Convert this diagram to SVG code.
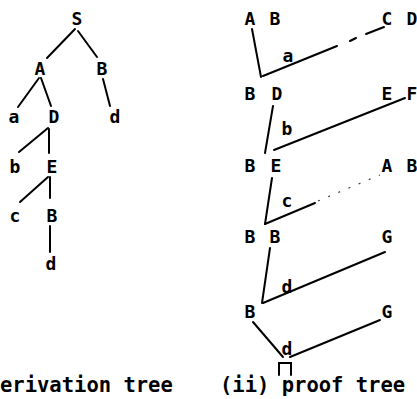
<svg xmlns="http://www.w3.org/2000/svg" width="417" height="399" viewBox="0 0 417 399">
<style>
.lbl{font-family:"DejaVu Sans Mono","Liberation Mono",monospace;font-size:18px;font-weight:bold;fill:#000;text-anchor:middle}
.cap{font-family:"DejaVu Sans Mono","Liberation Mono",monospace;font-size:20.5px;font-weight:600;fill:#000}
.ln{stroke:#000;stroke-width:2;fill:none;stroke-linecap:round}
.fd{stroke:#444;stroke-width:1.3;fill:none;stroke-dasharray:2 9}
</style>
<rect width="417" height="399" fill="#fff"/>
<g id="connectors">
  <line class="ln" x1="75" y1="29" x2="47" y2="58"/>
  <line class="ln" x1="78" y1="31" x2="97" y2="57"/>
  <line class="ln" x1="103" y1="79" x2="110" y2="106"/>
  <line class="ln" x1="39" y1="78" x2="18" y2="107"/>
  <line class="ln" x1="41" y1="78" x2="51" y2="106"/>
  <line class="ln" x1="48" y1="128" x2="19" y2="152"/>
  <line class="ln" x1="49" y1="129" x2="49" y2="153"/>
  <line class="ln" x1="48" y1="177" x2="20" y2="202"/>
  <line class="ln" x1="50" y1="177" x2="50" y2="198"/>
  <line class="ln" x1="50" y1="226" x2="50" y2="252"/>
  <line class="ln" x1="252" y1="29" x2="261" y2="77"/>
  <line class="ln" x1="263" y1="76" x2="337" y2="46"/>
  <line class="ln" x1="350" y1="41" x2="356" y2="38" stroke-width="1.5"/>
  <line class="ln" x1="366" y1="34" x2="384" y2="27" stroke-width="1.5"/>
  <line class="ln" x1="273" y1="106" x2="265" y2="153"/>
  <line class="ln" x1="274" y1="150" x2="405" y2="98"/>
  <line class="ln" x1="272" y1="178" x2="265" y2="224"/>
  <line class="ln" x1="265" y1="224" x2="315" y2="203"/>
  <line class="fd" x1="318" y1="201" x2="380" y2="175"/>
  <line class="ln" x1="270" y1="248" x2="262" y2="303"/>
  <line class="ln" x1="263" y1="303" x2="385" y2="252"/>
  <line class="ln" x1="253" y1="322" x2="283" y2="357"/>
  <line class="ln" x1="290" y1="357" x2="380" y2="320"/>
  <path class="ln" d="M279,375 V363 H291 V375" stroke-width="1.5"/>
</g>
<g id="derivation-tree">
  <g id="dS"><text class="lbl" x="77" y="25">S</text></g>
  <g id="dA"><text class="lbl" x="40" y="75">A</text></g>
  <g id="dB"><text class="lbl" x="102" y="75">B</text></g>
  <g id="da"><text class="lbl" x="14" y="123">a</text></g>
  <g id="dD"><text class="lbl" x="54" y="123">D</text></g>
  <g id="dd1"><text class="lbl" x="115" y="123">d</text></g>
  <g id="db"><text class="lbl" x="15" y="173">b</text></g>
  <g id="dE"><text class="lbl" x="52" y="173">E</text></g>
  <g id="dc"><text class="lbl" x="15" y="222">c</text></g>
  <g id="dB2"><text class="lbl" x="52" y="222">B</text></g>
  <g id="dd2"><text class="lbl" x="51" y="270">d</text></g>
</g>
<g id="proof-tree">
  <g id="pAB"><text class="lbl" x="250" y="25">A</text><text class="lbl" x="275" y="25">B</text></g>
  <g id="pCD"><text class="lbl" x="387" y="25">C</text><text class="lbl" x="412" y="25">D</text></g>
  <g id="pa"><text class="lbl" x="288" y="62">a</text></g>
  <g id="pBD"><text class="lbl" x="250" y="100">B</text><text class="lbl" x="277" y="100">D</text></g>
  <g id="pEF"><text class="lbl" x="387" y="100">E</text><text class="lbl" x="412" y="100">F</text></g>
  <g id="pb"><text class="lbl" x="287" y="135">b</text></g>
  <g id="pBE"><text class="lbl" x="250" y="172">B</text><text class="lbl" x="276" y="172">E</text></g>
  <g id="pAB2"><text class="lbl" x="387" y="172">A</text><text class="lbl" x="412" y="172">B</text></g>
  <g id="pc"><text class="lbl" x="287" y="207">c</text></g>
  <g id="pBB"><text class="lbl" x="250" y="243">B</text><text class="lbl" x="275" y="243">B</text></g>
  <g id="pG1"><text class="lbl" x="387" y="243">G</text></g>
  <g id="pd1"><text class="lbl" x="287" y="293">d</text></g>
  <g id="pB"><text class="lbl" x="250" y="318">B</text></g>
  <g id="pG2"><text class="lbl" x="387" y="318">G</text></g>
  <g id="pd2"><text class="lbl" x="287" y="355">d</text></g>
</g>
<g id="captions">
  <text class="cap" x="0" y="392">erivation tree</text>
  <text class="cap" x="220" y="392">(ii) proof tree</text>
</g>
</svg>
